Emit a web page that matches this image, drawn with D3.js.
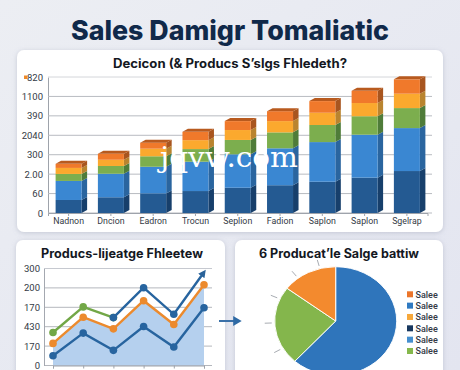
<!DOCTYPE html>
<html><head><meta charset="utf-8">
<script src="https://cdn.jsdelivr.net/npm/d3@7"></script>
<style>
html,body{margin:0;padding:0;background:#e9ebf2;overflow:hidden}
svg{display:block}
text{font-family:Roboto,"Noto Sans",sans-serif}
</style></head><body><div id="c"></div>
<script>
const categories=["Nadnon","Dncion","Eadron","Trocun","Seplion","Fadion","Saplon","Saplon","Sgelrap"];
const stackTickLabels=["0","60","2.00","300","2040","390","1100","820"];
const navySeries=[67,81,101,113,130,143,161,182,216];
const blueSeries=[98,121,137,151,172,190,204,221,221];
const greenSeries=[36,40,54,65,74,82,88,95,103];
const amberSeries=[31,32,39,46,51,58,63,68,74];
const orangeSeries=[21,31,31,43,46,51,60,63,74];

const lineTickLabels=["0","170","430","170","200","300"];
const lineLower=[50,167,78,201,95,298];
const lineOrange=[114,249,189,334,211,416];
const lineGreen=[170,302,247];
const lineUpper=[null,null,247,401,264,481];

const pieValues=[61.7,23.6,14.7];
const legendLabels=["Salee","Salee","Salee","Salee","Salee","Salee"];
const leaderAngles=[345,322,294,268,240,150,158];

const W=460,H=370;
const svg=d3.select("#c").append("svg").attr("width",W).attr("height",H);
const defs=svg.append("defs");
const bg=defs.append("linearGradient").attr("id","bg").attr("x1",0).attr("y1",0).attr("x2",1).attr("y2",1);
bg.append("stop").attr("offset",0).attr("stop-color","#eceef3");
bg.append("stop").attr("offset",1).attr("stop-color","#e3e5f0");
const sh=defs.append("filter").attr("id","sh").attr("x","-10%").attr("y","-10%").attr("width","120%").attr("height","120%");
sh.append("feDropShadow").attr("dx",0).attr("dy",1).attr("stdDeviation",2.5).attr("flood-color","#8d94a8").attr("flood-opacity",.4);
const mk=defs.append("marker").attr("id","ah").attr("viewBox","0 0 10 10").attr("refX",6).attr("refY",5)
 .attr("markerWidth",3.2).attr("markerHeight",3.2).attr("orient","auto");
mk.append("path").attr("d","M0,0L10,5L0,10Z").attr("fill","#2a6299");

svg.append("rect").attr("width",W).attr("height",H).attr("fill","url(#bg)");
[[17,50,426,182],[16,240,209,140],[235,240,208,140]].forEach(p=>{
 svg.append("rect").attr("x",p[0]).attr("y",p[1]).attr("width",p[2]).attr("height",p[3]).attr("rx",7)
  .attr("fill","#fff").attr("filter","url(#sh)");
});
const title=(x,y,s,size,col,fw)=>svg.append("text").attr("x",x).attr("y",y).attr("text-anchor","middle")
 .attr("font-weight",fw||700).attr("font-size",size).attr("fill",col).style("font-family","Inter,Roboto,sans-serif").text(s);
title(230,39.5,"Sales Damigr Tomaliatic",27,"#10294a",800).attr("textLength",318).attr("lengthAdjust","spacingAndGlyphs");
title(230,68,"Decicon (& Producs Sʼslgs Fhledeth?",12.5,"#14181f").attr("textLength",234).attr("lengthAdjust","spacingAndGlyphs");
title(122,258,"Producs-lijeatge Fhleetew",12.5,"#14181f").attr("textLength",162).attr("lengthAdjust","spacingAndGlyphs");
title(339,258,"6 Producatʼle Salge battiw",12.5,"#14181f").attr("textLength",160).attr("lengthAdjust","spacingAndGlyphs");

/* stacked 3D bars */
const x=d3.scaleBand().domain(d3.range(categories.length)).range([48,427.5]).paddingInner(.385).paddingOuter(.18);
const y=d3.scaleLinear().domain([0,700]).range([213,77]);
const gy=svg.append("g").attr("transform","translate(48,0)")
 .call(d3.axisLeft(y).tickValues(d3.range(0,701,100)).tickSize(0).tickPadding(5).tickFormat((d,i)=>stackTickLabels[i]));
gy.select(".domain").attr("stroke","#9ea3ab");
gy.selectAll("text").attr("font-size",9.5).attr("fill","#333a45");
const grid=svg.append("g");
grid.selectAll("line").data(d3.range(0,701,100)).join("line")
 .attr("x1",48).attr("x2",432).attr("y1",d=>y(d)).attr("y2",d=>y(d))
 .attr("stroke",d=>d===700?"#d4d6da":"#b8bbc1").attr("stroke-width",1);
svg.append("rect").attr("x",24).attr("y",75.5).attr("width",3.5).attr("height",3.5).attr("fill","#ee8a2a");
const rows=categories.map((c,i)=>({i,a:navySeries[i],b:blueSeries[i],c:greenSeries[i],d:amberSeries[i],e:orangeSeries[i]}));
const layers=d3.stack().keys(["a","b","c","d","e"])(rows);
const front=["#245a92","#3a87d2","#7cae4e","#fba92e","#f0792b"];
const side=["#173f6b","#2a659f","#4f7c39","#b9842f","#a8551f"];
const dx=5.5,dy=3;
const g3=svg.append("g");
layers.forEach((ly,k)=>{
 g3.selectAll(null).data(ly).join("path")
  .attr("d",d=>{const r=x(d.data.i)+x.bandwidth();return `M${r},${y(d[0])}L${r+dx},${y(d[0])-dy}L${r+dx},${y(d[1])-dy}L${r},${y(d[1])}Z`;})
  .attr("fill",side[k]);
 g3.selectAll(null).data(ly).join("rect")
  .attr("x",d=>x(d.data.i)).attr("width",x.bandwidth())
  .attr("y",d=>y(d[1])).attr("height",d=>y(d[0])-y(d[1])).attr("fill",front[k]);
});
g3.selectAll(null).data(layers[4]).join("path")
 .attr("d",d=>{const l=x(d.data.i),r=l+x.bandwidth(),t=y(d[1]);return `M${l},${t}L${l+dx},${t-dy}L${r+dx},${t-dy}L${r},${t}Z`;})
 .attr("fill","#b85a1e");
const gx=svg.append("g").attr("transform","translate(0,213)")
 .call(d3.axisBottom(x).tickSize(3).tickPadding(2).tickFormat(i=>categories[i]));
gx.select(".domain").attr("stroke","#9ea3ab");
gx.selectAll("line").attr("stroke","#9ea3ab");
gx.selectAll("text").attr("font-size",8.8).attr("fill","#333a45");

/* watermark */
svg.append("text").attr("x",160).attr("y",167).attr("font-size",28).attr("fill","#fff")
 .style("font-family",'"DejaVu Serif",serif').attr("textLength",138).attr("lengthAdjust","spacingAndGlyphs").text("jqvw.com");

/* line chart */
const lx=d3.scalePoint().domain(d3.range(6)).range([53,204]);
const ly=d3.scaleLinear().domain([0,500]).range([365.5,268.5]);
svg.append("g").selectAll("line").data(d3.range(0,501,100)).join("line")
 .attr("x1",44).attr("x2",212).attr("y1",d=>ly(d)).attr("y2",d=>ly(d)).attr("stroke",d=>d===500?"#c6c9d0":"#b4b7bd");
const gly=svg.append("g").attr("transform","translate(44,0)")
 .call(d3.axisLeft(ly).tickValues(d3.range(0,501,100)).tickSize(0).tickPadding(4).tickFormat((d,i)=>lineTickLabels[i]));
gly.select(".domain").attr("stroke","#a4a8b0");
gly.selectAll("text").attr("font-size",9.5).attr("fill","#333a45");
svg.append("path").attr("fill","#b5d0ee").attr("d",d3.area().x((d,i)=>lx(i)).y0(ly(0)).y1(d=>ly(d))(lineOrange));
svg.append("g").attr("transform","translate(0,365.5)")
 .call(d3.axisBottom(lx).tickSize(3).tickFormat(""))
 .call(s=>s.selectAll("line,path").attr("stroke","#9ea3ab"));
const ln=d3.line().defined(d=>d!==null).x((d,i)=>lx(i)).y(d=>ly(d));
const series=[[lineGreen,"#72a747",false],[lineLower,"#27649f",false],[lineOrange,"#ec8a2d",false],[lineUpper,"#27649f",true]];
series.forEach(([v,c,arrow])=>{
 const p=svg.append("path").attr("fill","none").attr("stroke",c).attr("stroke-width",2.4).attr("d",ln(v));
 if(arrow)p.attr("marker-end","url(#ah)");
 svg.append("g").selectAll("circle").data(v.map((d,i)=>({d,i})).filter(o=>o.d!==null&&!(arrow&&o.i===5))).join("circle")
  .attr("cx",o=>lx(o.i)).attr("cy",o=>ly(o.d)).attr("r",3.8).attr("fill",c);
});

/* connector arrow */
svg.append("line").attr("x1",219).attr("x2",236).attr("y1",321).attr("y2",321)
 .attr("stroke","#3a70a8").attr("stroke-width",2);
svg.append("path").attr("d",d3.symbol().type(d3.symbolTriangle).size(42)).attr("fill","#2f6aa5")
 .attr("transform","translate(236,321) rotate(90)");

/* pie */
const pc=[335.7,321],R=61;
const pieG=svg.append("g").attr("transform",`translate(${pc[0]},${pc[1]}) scale(1,.89)`);
const pieCols=["#2f75bb","#84b64c","#f38a2e"];
pieG.selectAll("path").data(d3.pie().sort(null)(pieValues)).join("path")
 .attr("d",d3.arc().innerRadius(0).outerRadius(R)).attr("fill",(d,i)=>pieCols[i])
 .attr("stroke","#fff").attr("stroke-width",1);
const rad=d3.scaleLinear().domain([0,1]).range([R+3,R+10]);
svg.append("g").attr("transform",`translate(${pc[0]},${pc[1]}) scale(1,.89)`)
 .selectAll("line").data(leaderAngles).join("line")
 .attr("x1",a=>rad(0)*Math.sin(a*Math.PI/180)).attr("y1",a=>-rad(0)*Math.cos(a*Math.PI/180))
 .attr("x2",a=>rad(1)*Math.sin(a*Math.PI/180)).attr("y2",a=>-rad(1)*Math.cos(a*Math.PI/180))
 .attr("stroke","#8a8f98").attr("stroke-width",.8);

/* legend */
const legCols=["#ec752a","#2f7ac2","#f7a83b","#17375f","#458fcf","#85b84c"];
const leg=d3.scalePoint().domain(d3.range(6)).range([294.3,351]);
const lg=svg.append("g").selectAll("g").data(legendLabels).join("g")
 .attr("transform",(d,i)=>`translate(407,${leg(i)})`);
lg.append("rect").attr("y",-3).attr("width",6).attr("height",6).attr("fill",(d,i)=>legCols[i]);
lg.append("text").attr("x",8.5).attr("y",3.2).attr("font-size",9).attr("font-weight",500).attr("fill","#333a45").text(d=>d);
</script></body></html>
